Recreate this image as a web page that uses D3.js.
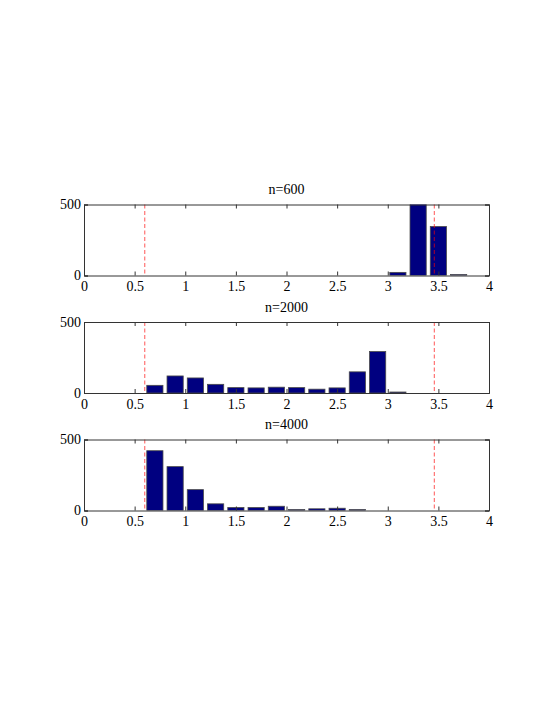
<!DOCTYPE html>
<html>
<head>
<meta charset="utf-8">
<script src="https://cdn.jsdelivr.net/npm/d3@7"></script>
<style>
  html, body { margin: 0; padding: 0; background: #fff; }
  svg { display: block; }
  svg text { font-family: "Liberation Serif", "Times New Roman", serif !important; font-size: 14px !important; fill: #000; }
</style>
</head>
<body>
<svg id="chart" width="554" height="717"></svg>
<script>
// ---- data ----
const binCenters = [0.7, 0.9, 1.1, 1.3, 1.5, 1.7, 1.9, 2.1, 2.3, 2.5, 2.7, 2.9, 3.1, 3.3, 3.5, 3.7];
const counts600  = [0, 0, 0, 0, 0, 0, 0, 0, 0, 0, 0, 0, 22, 530, 345, 7];
const counts2000 = [54, 120, 106, 61, 38, 36, 41, 38, 27, 36, 149, 292, 7, 0, 0, 0];
const counts4000 = [421, 309, 147, 47, 21, 21, 30, 7, 12, 16, 7, 0, 0, 0, 0, 0];
const panelTitles = ["n=600", "n=2000", "n=4000"];
const thresholds = [0.6, 3.46];
const xTicks = [0, 0.5, 1, 1.5, 2, 2.5, 3, 3.5, 4];
const yTicks = [0, 500];
const binWidth = 0.2;
const barFraction = 0.8;

const panels = [counts600, counts2000, counts4000];

// ---- layout ----
const svg = d3.select("#chart");
const left = 84, right = 489;
const panelTops = [204.5, 322, 439.5];
const panelH = 71;

const x = d3.scaleLinear().domain([0, 4]).range([left, right]);

panels.forEach((counts, i) => {
  const top = panelTops[i];
  const bottom = top + panelH;
  const y = d3.scaleLinear().domain([0, 500]).range([bottom, top]);
  const g = svg.append("g");

  const clipId = "clip" + i;
  svg.append("clipPath").attr("id", clipId)
    .append("rect").attr("x", left).attr("y", top).attr("width", right - left).attr("height", panelH);

  const data = binCenters.map((c, k) => ({c, v: counts[k]})).filter(d => d.v > 0);
  const bw = x(binWidth * barFraction) - x(0);

  g.append("g").attr("clip-path", `url(#${clipId})`)
    .selectAll("rect").data(data).enter().append("rect")
    .attr("x", d => x(d.c) - bw / 2)
    .attr("width", bw)
    .attr("y", d => y(d.v))
    .attr("height", d => y(0) - y(d.v))
    .attr("fill", "#000080")
    .attr("stroke", "#4a4a4a")
    .attr("stroke-width", 0.8);

  // threshold lines
  g.selectAll("line.thr").data(thresholds).enter().append("line")
    .attr("class", "thr")
    .attr("x1", d => x(d)).attr("x2", d => x(d))
    .attr("y1", top).attr("y2", bottom)
    .attr("stroke", "#ff0000")
    .attr("stroke-opacity", 0.6)
    .attr("stroke-width", 1.1)
    .attr("stroke-dasharray", "4,2.5");

  // axes (ticks inward)
  const tl = 4;
  const axB = d3.axisBottom(x).tickValues(xTicks).tickSize(-tl).tickPadding(5).tickFormat(d3.format("~g"));
  const axT = d3.axisTop(x).tickValues(xTicks).tickSize(-tl).tickFormat("");
  const axL = d3.axisLeft(y).tickValues(yTicks).tickSize(-tl).tickPadding(3).tickFormat(d3.format("d"));
  const axR = d3.axisRight(y).tickValues(yTicks).tickSize(-tl).tickFormat("");

  const gb = g.append("g").attr("transform", `translate(0,${bottom})`).call(axB);
  const gt = g.append("g").attr("transform", `translate(0,${top})`).call(axT);
  const gl = g.append("g").attr("transform", `translate(${left},0)`).call(axL);
  const gr = g.append("g").attr("transform", `translate(${right},0)`).call(axR);
  [gb, gt, gl, gr].forEach(a => {
    a.attr("font-family", null).attr("font-size", null);
    a.select(".domain").attr("stroke", "#333").attr("stroke-width", 1);
    a.selectAll(".tick line").attr("stroke", "#333");
  });
  gb.selectAll("text").attr("dy", "0.75em");

  // title
  g.append("text")
    .attr("x", (left + right) / 2)
    .attr("y", top - 10.5)
    .attr("text-anchor", "middle")
    .text(panelTitles[i]);
});
</script>
</body>
</html>
